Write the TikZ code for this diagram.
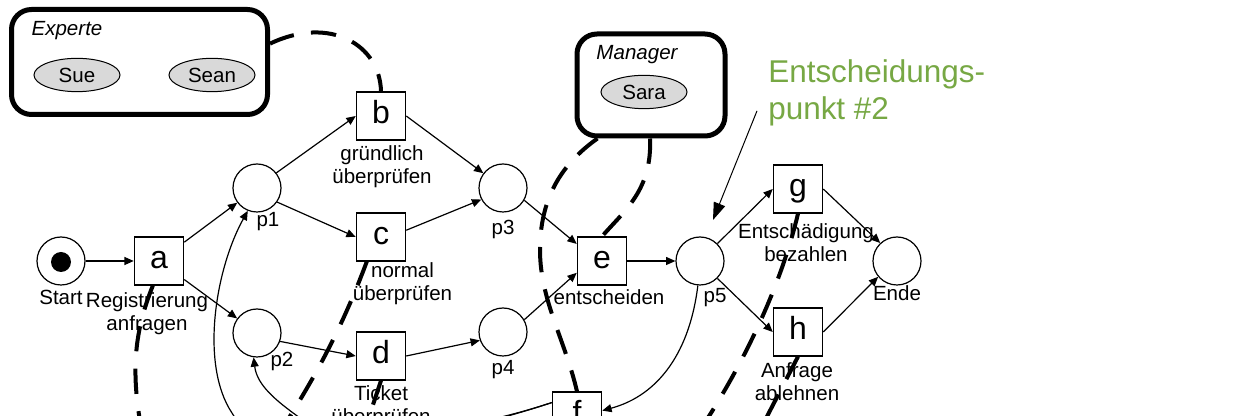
\documentclass[tikz,border=0pt]{standalone}
\usepackage{fontspec}
\setmainfont{Liberation Sans}
\usetikzlibrary{arrows.meta,shapes.geometric}
\definecolor{notegreen}{RGB}{119,168,68}
\definecolor{resgray}{RGB}{217,217,217}

\begin{document}
\begin{tikzpicture}[x=0.75pt,y=-0.75pt,
  place/.style={circle,draw,line width=0.9pt,minimum size=36pt,inner sep=0pt},
  trans/.style={rectangle,draw,line width=0.9pt,minimum width=37pt,minimum height=36pt,
    inner sep=0pt,text height=17pt,text depth=5pt,font=\fontsize{24}{24}\selectfont},
  lbl/.style={font=\fontsize{15.4}{17.25}\selectfont,align=center,inner sep=0pt},
  role/.style={draw,rectangle,rounded corners=15pt,line width=3.75pt,inner sep=0pt},
  rolename/.style={font=\fontsize{15.4}{17.25}\selectfont\itshape,inner sep=0pt},
  res/.style={ellipse,draw,fill=resgray,line width=0.75pt,minimum width=64.5pt,
    minimum height=25pt,inner sep=0pt,font=\fontsize{15.4}{17.25}\selectfont},
  flow/.style={-{Triangle[length=7pt,width=6pt]},line width=0.9pt},
  assign/.style={line width=3pt,dash pattern=on 19pt off 13pt},
]
\useasboundingbox (0,0) rectangle (1233,416);
\clip (0,0) rectangle (1233,416);

% roles and their resources
\node[role,minimum width=192pt,minimum height=78.75pt] (exp) at (139.5,62) {};
\node[rolename] (expname) at (67,31) {Experte};
\node[res] (sue) at (77,75) {Sue};
\node[res] (sean) at (212,75) {Sean};

\node[role,minimum width=111pt,minimum height=76.5pt] (mgr) at (651,85) {};
\node[rolename] (mgrname) at (637,55) {Manager};
\node[res] (sara) at (644,92) {Sara};

% places and transitions
\node[place] (start) at (61,261) {};
\node[circle,fill=black,minimum size=15pt,inner sep=0pt] (tok) at (61,262) {};
\node[trans] (a) at (159,261) {a};
\node[place] (p1) at (257,188) {};
\node[place] (p2) at (257,333) {};
\node[trans] (b) at (381,116) {b};
\node[trans] (c) at (381,237) {c};
\node[trans] (d) at (381,356) {d};
\node[place] (p3) at (503,188) {};
\node[place] (p4) at (503,332) {};
\node[trans] (e) at (602,261) {e};
\node[trans] (f) at (577,416) {f};
\node[place] (p5) at (700,261) {};
\node[trans] (g) at (798,189) {g};
\node[trans] (h) at (798,332) {h};
\node[place] (ende) at (897,261) {};

% labels
\node[lbl] (lstart) at (61,297) {Start};
\node[lbl] (la) at (147,314) {Registrierung\\anfragen};
\node[lbl] (lp1) at (268,222) {p1};
\node[lbl] (lp2) at (282,361) {p2};
\node[lbl] (lb) at (382,166.5) {gründlich\\überprüfen};
\node[lbl] (lc) at (402.5,283.5) {normal\\überprüfen};
\node[lbl] (ld) at (381,406.5) {Ticket\\überprüfen};
\node[lbl] (lp3) at (503,229) {p3};
\node[lbl] (lp4) at (503,370) {p4};
\node[lbl] (le) at (609,297) {entscheiden};
\node[lbl] (lp5) at (715,298) {p5};
\node[lbl] (lg) at (806,242.5) {Entschädigung\\bezahlen};
\node[lbl] (lh) at (797,382) {Anfrage\\ablehnen};
\node[lbl] (lende) at (897,293) {Ende};

% annotation
\node[font=\fontsize{23.6}{27.75}\selectfont,text=notegreen,align=left,anchor=north west,inner sep=0pt]
  (note) at (768,59) {Entscheidungs-\\punkt \#2};
\coordinate (dp) at (713,220);
\draw[-{Triangle[length=13pt,width=9pt]},line width=0.75pt]
  ([shift={(-11,-15)}]note.south west) -- (dp);

% arcs
\draw[flow] (start) -- (a);
\draw[flow] (a) -- (p1);
\draw[flow] (a) -- (p2);
\draw[flow] (p1.38) -- (b.west);
\draw[flow] (p1.-35) -- (c.west);
\draw[flow] (p2.-20) -- (d.west);
\draw[flow] (b.east) -- (p3.143);
\draw[flow] (c.15) -- (p3.-152);
\draw[flow] (d.east) -- (p4.-160);
\draw[flow] (p3.-30) -- (e.146);
\draw[flow] (p4.30) -- (e.-155);
\draw[flow] (e) -- (p5);
\draw[flow] (p5.45) -- (g.west);
\draw[flow] (p5.-45) -- (h.west);
\draw[flow] (g.east) -- (ende.133);
\draw[flow] (h.east) -- (ende.-140);
\draw[flow] (p5.-95) .. controls (690,350) and (660,395) .. (f.12);
\draw[flow] (f.152) .. controls (470,430) and (270,480) .. (232,413)
  .. controls (200,365) and (215,270) .. (p1.-112);
\draw[flow] (f.152) .. controls (470,430) and (340,450) .. (300,418)
  .. controls (275,400) and (257,385) .. (p2.-98);

% resource assignments
\coordinate (offa) at (142,432);
\coordinate (offc) at (280,432);
\coordinate (offd) at (364,432);
\coordinate (offg) at (700,430);
\coordinate (offh) at (760,430);
\draw[assign] (exp.8.4) .. controls (330,15) and (380,45) .. (b.north);
\draw[assign] (mgr.-135) .. controls (560,165) and (540,200) .. (540,250)
  .. controls (540,300) and (565,340) .. (f.north);
\draw[assign] (mgr.-91) .. controls (652,190) and (625,210) .. (e.north);
\draw[assign] (a.-104) .. controls (135,330) and (130,370) .. (offa);
\draw[assign] (c.-120) .. controls (345,320) and (320,370) .. (offc);
\draw[assign] (d.south) -- (offd);
\draw[assign] (g.south) .. controls (780,290) and (740,370) .. (offg);
\draw[assign] (h.south) -- (offh);
\end{tikzpicture}
\end{document}
